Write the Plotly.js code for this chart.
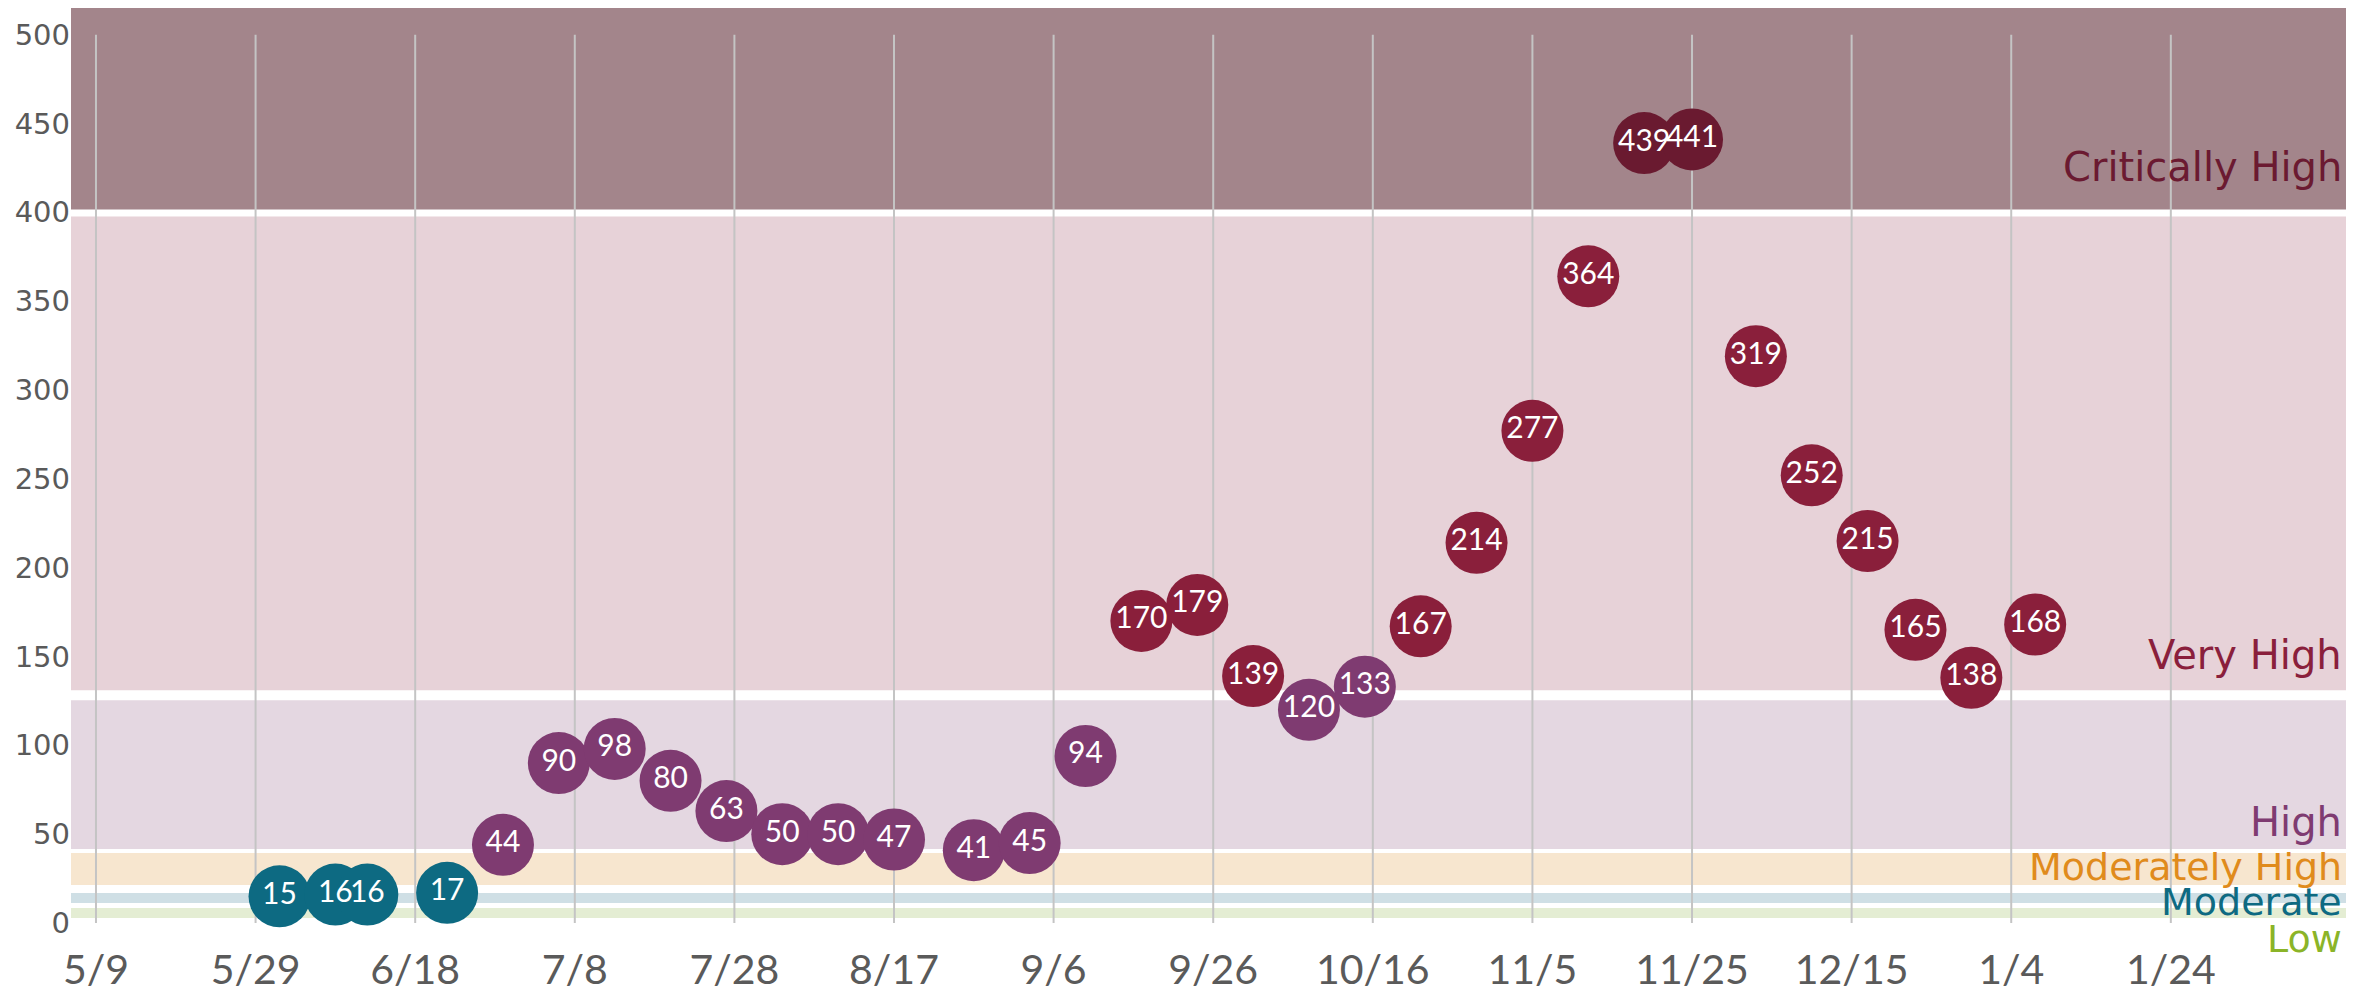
<!DOCTYPE html>
<html>
<head>
<meta charset="utf-8">
<script src="https://cdn.plot.ly/plotly-3.0.1.min.js"></script>
<style>
  html, body { margin: 0; padding: 0; background: #ffffff; }
  #chart { width: 2370px; height: 992px; }
</style>
</head>
<body>
<div id="chart"></div>
<script>
// ---- data ----
const dates = ['2022-06-01','2022-06-08','2022-06-12','2022-06-22','2022-06-29','2022-07-06','2022-07-13',
  '2022-07-20','2022-07-27','2022-08-03','2022-08-10','2022-08-17','2022-08-27','2022-09-03','2022-09-10',
  '2022-09-17','2022-09-24','2022-10-01','2022-10-08','2022-10-15','2022-10-22','2022-10-29','2022-11-05',
  '2022-11-12','2022-11-19','2022-11-25','2022-12-03','2022-12-10','2022-12-17','2022-12-23','2022-12-30',
  '2023-01-07'];
const values = [15,16,16,17,44,90,98,80,63,50,50,47,41,45,94,170,179,139,120,133,167,214,277,364,439,441,
  319,252,215,165,138,168];
const levels = ['Moderate','Moderate','Moderate','Moderate','High','High','High','High','High','High','High',
  'High','High','High','High','Very High','Very High','Very High','High','High','Very High','Very High',
  'Very High','Very High','Critically High','Critically High','Very High','Very High','Very High',
  'Very High','Very High','Very High'];

const tickDates = ['2022-05-09','2022-05-29','2022-06-18','2022-07-08','2022-07-28','2022-08-17','2022-09-06',
  '2022-09-26','2022-10-16','2022-11-05','2022-11-25','2022-12-15','2023-01-04','2023-01-24'];
const tickLabels = ['5/9','5/29','6/18','7/8','7/28','8/17','9/6','9/26','10/16','11/5','11/25','12/15','1/4','1/24'];

const bandNames = ['Low','Moderate','Moderately High','High','Very High','Critically High'];
const bandLow  = [2.8, 11.2, 21.4, 41.6, 131, 401.6];
const bandHigh = [8.4, 16.9, 39.4, 125.4, 397.6, 515];
const bandLabelY = [-9, 11.6, 31.5, 56.8, 151, 425.5];

// ---- styles ----
const bandFill = {'Low':'#e4edd3','Moderate':'#cfdfe5','Moderately High':'#f7e6cf','High':'#e4d7e1',
  'Very High':'#e7d2d8','Critically High':'#a3858b'};
const bandText = {'Low':'#8bb428','Moderate':'#0e6a82','Moderately High':'#e08b1c','High':'#7f3b71',
  'Very High':'#8a1f3c','Critically High':'#6b1a31'};
const bandFontSize = {'Low':38,'Moderate':38,'Moderately High':38,'High':40,'Very High':40,'Critically High':40};
const markerColor = {'Moderate':'#0d6a82','High':'#7f3b71','Very High':'#8a1f3b','Critically High':'#6a1a30'};

const FONT = 'Lato, "Open Sans", "DejaVu Sans", sans-serif';
const WIDE = '"DejaVu Sans", Verdana, sans-serif';
const DAY = 86400000;
const t0 = Date.parse(tickDates[0] + 'T00:00:00Z');
const yRange = [0, 515];

const shapes = [];
bandNames.forEach((n, i) => {
  shapes.push({type:'rect', xref:'paper', yref:'y', x0:0, x1:1, y0:bandLow[i], y1:bandHigh[i],
    fillcolor:bandFill[n], line:{width:0}, layer:'below'});
});
tickDates.forEach(d => {
  shapes.push({type:'line', xref:'x', yref:'y', x0:d, x1:d, y0:0, y1:500,
    line:{color:'#c4c4c4', width:2}, layer:'below'});
});

const annotations = bandNames.map((n, i) => ({
  xref:'paper', yref:'paper', x:1, y:(bandLabelY[i] - yRange[0]) / (yRange[1] - yRange[0]),
  xanchor:'right', yanchor:'middle', xshift:-2,
  text:n, showarrow:false, font:{family:WIDE, size:bandFontSize[n], color:bandText[n]}
}));

const trace = {
  type:'scatter', mode:'markers+text', x:dates, y:values,
  text: values.map(String), textposition:'middle center',
  textfont:{family:FONT, size:30, color:'#ffffff'},
  marker:{size:62, color:levels.map(l => markerColor[l]), line:{width:0}, opacity:1},
  cliponaxis:false, hoverinfo:'skip', showlegend:false
};

const layout = {
  width:2370, height:992,
  margin:{l:71, r:24, t:8, b:69, pad:0},
  paper_bgcolor:'#ffffff', plot_bgcolor:'#ffffff',
  showlegend:false,
  xaxis:{type:'date', range:[t0 - 3.13*DAY, t0 + 281.95*DAY], tickmode:'array',
    tickvals:tickDates, ticktext:tickLabels, showgrid:false, zeroline:false, showline:false,
    ticks:'outside', ticklen:11, tickcolor:'rgba(0,0,0,0)',
    tickfont:{family:FONT, size:41, color:'#5a5a5a'}},
  yaxis:{range:yRange, tickmode:'array', tickvals:[0,50,100,150,200,250,300,350,400,450,500],
    showgrid:false, zeroline:false, showline:false, ticks:'',
    tickfont:{family:WIDE, size:29, color:'#5a5a5a'}},
  shapes:shapes, annotations:annotations
};

Plotly.newPlot('chart', [trace], layout, {displayModeBar:false, staticPlot:true});
</script>
</body>
</html>
